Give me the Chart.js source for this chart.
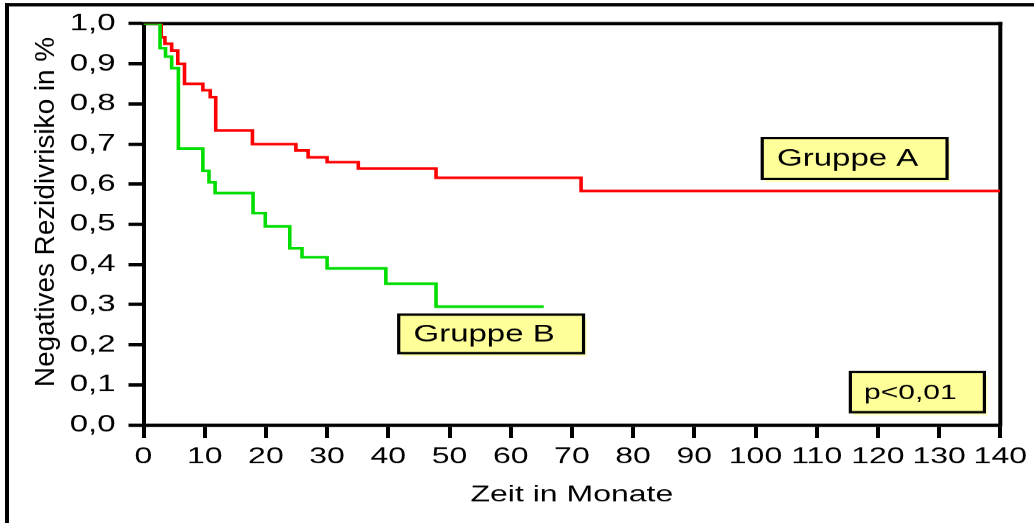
<!DOCTYPE html>
<html>
<head>
  <title>Negatives Rezidivrisiko</title>
  <meta charset="utf-8">
  <script src="https://cdn.jsdelivr.net/npm/chart.js@4.4.0/dist/chart.umd.min.js"></script>
  <style>
    body { margin: 0; background: #fff; overflow: hidden; }
  </style>
</head>
<body>
<!-- drawn taller and squeezed to 523px, the original chart has wide, flat lettering -->
<canvas id="myChart" width="1034" height="726" style="width:1034px;height:523px;display:block"></canvas>
<script>
  // Kaplan-Meier steps: time in months, survival fraction after the step
  const timesA = [0, 2.9, 3.5, 4.6, 5.6, 6.7, 9.7, 10.9, 11.8, 17.8, 24.9, 26.9, 30.0, 35.1, 47.8, 71.5, 140];
  const survA  = [1.0, 0.966, 0.950, 0.933, 0.900, 0.850, 0.834, 0.817, 0.734, 0.700, 0.684, 0.667, 0.655, 0.639, 0.616, 0.583, 0.583];

  const timesB = [0, 2.7, 3.6, 4.6, 5.7, 9.7, 10.7, 11.7, 17.9, 19.9, 23.9, 25.9, 30.0, 39.6, 47.8, 65.4];
  const survB  = [1.0, 0.939, 0.918, 0.889, 0.689, 0.633, 0.605, 0.578, 0.528, 0.495, 0.440, 0.418, 0.390, 0.352, 0.295, 0.295];

  const seriesNames = ['Gruppe A', 'Gruppe B'];
  const yTickLabels = ['0,0', '0,1', '0,2', '0,3', '0,4', '0,5', '0,6', '0,7', '0,8', '0,9', '1,0'];
  const noteTexts = ['Gruppe A', 'Gruppe B', 'p<0,01'];

  const W = 1034, H = 726;
  const S = 523 / H;   // vertical squeeze applied by css

  Chart.defaults.font.family = '"Liberation Sans", Arial, sans-serif';
  Chart.defaults.color = '#000';

  function points(ts, vs) {
    return ts.map(function(t, i) { return {x: t, y: vs[i]}; });
  }

  // frame round the picture and top/right edge of the plot
  const framePlugin = {
    id: 'frame',
    beforeDatasetsDraw: function(chart) {
      const ctx = chart.ctx, ca = chart.chartArea;
      ctx.save();
      ctx.fillStyle = '#000';
      ctx.fillRect(5, 3 / S, 4, H);
      ctx.fillRect(5, 3 / S, W, 3.4 / S);
      ctx.fillRect(ca.left - 2, ca.top - 1.7 / S, ca.right - ca.left + 4, 3.4 / S);
      ctx.fillRect(ca.right - 2, ca.top - 1.7 / S, 4, ca.bottom - ca.top + 3.4 / S);
      ctx.restore();
    }
  };

  // yellow labels and the rotated y title
  const notePlugin = {
    id: 'notes',
    afterDraw: function(chart) {
      const ctx = chart.ctx, xs = chart.scales.x, ys = chart.scales.y;
      const notes = [
        {text: noteTexts[0], x0: 101.1, x1: 131.3, y0: 0.613, y1: 0.715, size: 33},
        {text: noteTexts[1], x0: 41.7, x1: 71.9, y0: 0.179, y1: 0.275, size: 33},
        {text: noteTexts[2], x0: 115.5, x1: 137.4, y0: 0.032, y1: 0.132, size: 30}
      ];
      ctx.save();
      notes.forEach(function(n) {
        const l = xs.getPixelForValue(n.x0), r = xs.getPixelForValue(n.x1);
        const t = ys.getPixelForValue(n.y1), b = ys.getPixelForValue(n.y0);
        ctx.fillStyle = '#ffffb8';
        ctx.fillRect(l + 3, t + 3 / S, r - l, b - t);
        ctx.fillStyle = '#ffff99';
        ctx.fillRect(l, t, r - l, b - t);
        ctx.strokeStyle = '#000';
        ctx.lineWidth = 3.2;
        ctx.strokeRect(l, t, r - l, b - t);
        ctx.fillStyle = '#000';
        ctx.font = n.size + 'px "Liberation Sans", Arial, sans-serif';
        ctx.textAlign = 'center';
        ctx.textBaseline = 'middle';
        ctx.fillText(n.text, (l + r) / 2 - 7, (t + b) / 2 + 1);
      });

      // y title: normal width glyphs, so undo the squeeze along the text
      const title = 'Negatives Rezidivrisiko in %';
      ctx.translate(46, 212 / S);
      ctx.rotate(-Math.PI / 2);
      ctx.font = '28px "Liberation Sans", Arial, sans-serif';
      const w = ctx.measureText(title).width;
      ctx.scale((350 / S) / w, 1);
      ctx.textAlign = 'center';
      ctx.textBaseline = 'middle';
      ctx.fillText(title, 0, 0);
      ctx.restore();
    }
  };

  const ctx = document.getElementById('myChart').getContext('2d');
  const chart = new Chart(ctx, {
    type: 'line',
    data: {
      datasets: [{
        label: seriesNames[0],
        data: points(timesA, survA),
        borderColor: '#ff0000',
        borderWidth: 3.6,
        stepped: true,
        pointRadius: 0,
        fill: false,
        order: 1
      }, {
        label: seriesNames[1],
        data: points(timesB, survB),
        borderColor: '#00dd00',
        borderWidth: 3.6,
        stepped: true,
        pointRadius: 0,
        fill: false,
        order: 0
      }]
    },
    options: {
      responsive: false,
      animation: false,
      devicePixelRatio: 1,
      layout: {
        padding: { left: 0, right: 33, top: 22 / S, bottom: 0 }
      },
      scales: {
        x: {
          type: 'linear',
          min: 0,
          max: 140,
          afterFit: function(scale) { scale.height = H - 425 / S; },
          ticks: {
            stepSize: 10,
            autoSkip: false,
            maxRotation: 0,
            padding: 7,
            font: { size: 32 },
            color: '#000'
          },
          grid: {
            drawOnChartArea: false,
            tickLength: 13 / S,
            lineWidth: 4,
            color: '#000'
          },
          border: { display: true, color: '#000', width: 3.4 / S },
          title: {
            display: true,
            text: 'Zeit in Monate',
            font: { size: 32 },
            color: '#000',
            padding: { top: 0, bottom: 20 }
          }
        },
        y: {
          min: 0,
          max: 1,
          afterFit: function(scale) { scale.width = 143.5; },
          ticks: {
            stepSize: 0.1,
            padding: 13,
            font: { size: 33 },
            color: '#000',
            callback: function(value, index) { return yTickLabels[index]; }
          },
          grid: {
            drawOnChartArea: false,
            tickLength: 15,
            lineWidth: 3.4 / S,
            color: '#000'
          },
          border: { display: true, color: '#000', width: 4 }
        }
      },
      plugins: {
        legend: { display: false },
        tooltip: { enabled: false }
      }
    },
    plugins: [framePlugin, notePlugin]
  });
</script>
</body>
</html>
